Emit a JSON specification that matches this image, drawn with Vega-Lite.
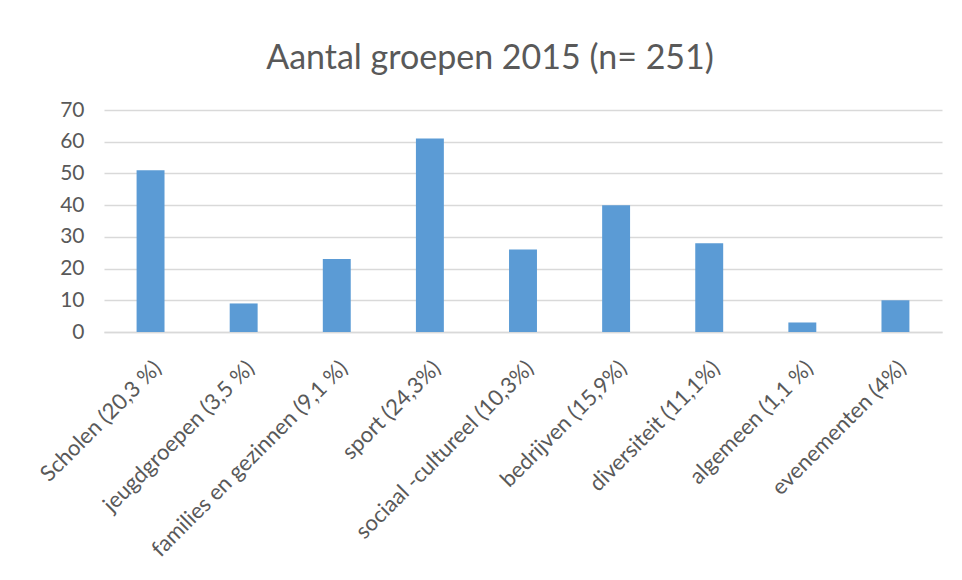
{
  "$schema": "https://vega.github.io/schema/vega-lite/v6.json",
  "autosize": "none",
  "width": 838,
  "height": 222,
  "padding": {"left": 104, "top": 110, "right": 20, "bottom": 248},
  "background": "white",
  "title": {
    "text": "Aantal groepen 2015 (n= 251)",
    "font": "Lato",
    "fontSize": 34,
    "fontWeight": "normal",
    "color": "#595959",
    "anchor": "middle",
    "dx": -33,
    "offset": 23
  },
  "data": {
    "values": [
      {"categorie": "Scholen (20,3 %)", "aantal": 51},
      {"categorie": "jeugdgroepen (3,5 %)", "aantal": 9},
      {"categorie": "families en gezinnen (9,1 %)", "aantal": 23},
      {"categorie": "sport (24,3%)", "aantal": 61},
      {"categorie": "sociaal -cultureel (10,3%)", "aantal": 26},
      {"categorie": "bedrijven (15,9%)", "aantal": 40},
      {"categorie": "diversiteit (11,1%)", "aantal": 28},
      {"categorie": "algemeen (1,1 %)", "aantal": 3},
      {"categorie": "evenementen (4%)", "aantal": 10}
    ]
  },
  "mark": {"type": "bar", "color": "#5b9bd5"},
  "encoding": {
    "x": {
      "field": "categorie",
      "type": "nominal",
      "sort": null,
      "scale": {"paddingInner": 0.7, "paddingOuter": 0.35},
      "axis": {
        "title": null,
        "labelAngle": -45,
        "labelAlign": "right",
        "labelBaseline": "top",
        "labelFont": "Lato",
        "labelFontSize": 22,
        "labelColor": "#595959",
        "labelPadding": 25,
        "labelDx": -12,
        "ticks": false,
        "domainColor": "#d9d9d9",
        "domainWidth": 1.5,
        "labelLimit": 400,
        "labelOverlap": false
      }
    },
    "y": {
      "field": "aantal",
      "type": "quantitative",
      "scale": {"domain": [0, 70]},
      "axis": {
        "title": null,
        "values": [0, 10, 20, 30, 40, 50, 60, 70],
        "labelFont": "Lato",
        "labelFontSize": 21,
        "labelColor": "#595959",
        "labelPadding": 20,
        "ticks": false,
        "domain": false,
        "gridColor": "#d9d9d9",
        "gridWidth": 1.5
      }
    }
  },
  "config": {"view": {"stroke": null}}
}
